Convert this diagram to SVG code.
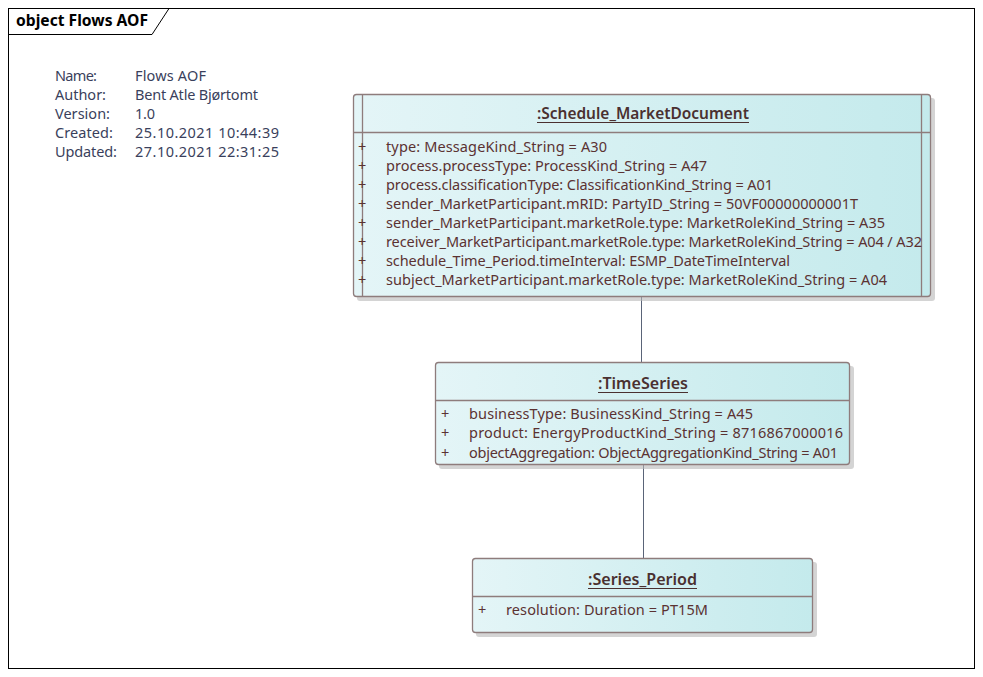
<svg xmlns="http://www.w3.org/2000/svg" width="983" height="677" viewBox="0 0 983 677">
<defs>
<linearGradient id="g" x1="0" y1="0" x2="1" y2="0">
<stop offset="0" stop-color="#e4f5f7"/>
<stop offset="1" stop-color="#c4eaec"/>
</linearGradient>
<style>
text{font-family:"Noto Sans","Liberation Sans",sans-serif;font-size:14.5px;fill:#5b3232}
.info{fill:#3a3f5c}
.ttl{font-weight:600;font-size:15.5px;fill:#4a3030}
.frame{font-weight:bold;font-size:15.5px;fill:#000}
.box{fill:url(#g);stroke:#8e7c7c;stroke-width:1.3}
.shadow{fill:#b8b8b8;opacity:0.6}
.sep{stroke:#8e7c7c;stroke-width:1.3}
.ul{stroke:#4a3030;stroke-width:1}
.conn{stroke:#5a6478;stroke-width:1;fill:none}
</style>
</defs>
<rect x="0" y="0" width="983" height="677" fill="#fff"/>
<g id="frame">
<rect x="8.5" y="8.5" width="966" height="660" fill="none" stroke="#000" stroke-width="1"/>
<path d="M8.5 34.5 H152 L169 8.5" fill="none" stroke="#000" stroke-width="1"/>
<text class="frame" x="16" y="26" textLength="132" lengthAdjust="spacingAndGlyphs">object Flows AOF</text>
</g>
<g id="info">
<text class="info" x="55" y="81" textLength="42">Name:</text><text class="info" x="135" y="81" textLength="71">Flows AOF</text>
<text class="info" x="55" y="100" textLength="51">Author:</text><text class="info" x="135" y="100" textLength="123">Bent Atle Bjørtomt</text>
<text class="info" x="55" y="119" textLength="55">Version:</text><text class="info" x="135" y="119" textLength="20">1.0</text>
<text class="info" x="55" y="138" textLength="58">Created:</text><text class="info" x="135" y="138" textLength="144">25.10.2021 10:44:39</text>
<text class="info" x="55" y="157" textLength="62">Updated:</text><text class="info" x="135" y="157" textLength="144">27.10.2021 22:31:25</text>
</g>
<g id="connectors">
<line class="conn" x1="641.5" y1="297" x2="641.5" y2="362"/>
<line class="conn" x1="643.5" y1="465" x2="643.5" y2="558"/>
</g>
<g id="schedule">
<rect class="shadow" x="357" y="98" width="578" height="203" rx="3"/>
<rect class="box" x="353.5" y="94.5" width="577" height="202" rx="3"/>
<line class="sep" x1="362.5" y1="95" x2="362.5" y2="296"/>
<line class="sep" x1="921.5" y1="95" x2="921.5" y2="296"/>
<line class="sep" x1="354" y1="132.5" x2="930" y2="132.5"/>
<text class="ttl" x="537" y="119" textLength="212" lengthAdjust="spacingAndGlyphs">:Schedule_MarketDocument</text>
<line class="ul" x1="537" y1="122.5" x2="749" y2="122.5"/>
<text x="358" y="152">+</text><text x="386" y="152" textLength="221">type: MessageKind_String = A30</text>
<text x="358" y="171">+</text><text x="386" y="171" textLength="321">process.processType: ProcessKind_String = A47</text>
<text x="358" y="190">+</text><text x="386" y="190" textLength="387">process.classificationType: ClassificationKind_String = A01</text>
<text x="358" y="209">+</text><text x="386" y="209" textLength="472">sender_MarketParticipant.mRID: PartyID_String = 50VF00000000001T</text>
<text x="358" y="228">+</text><text x="386" y="228" textLength="499">sender_MarketParticipant.marketRole.type: MarketRoleKind_String = A35</text>
<text x="358" y="247">+</text><text x="386" y="247" textLength="536">receiver_MarketParticipant.marketRole.type: MarketRoleKind_String = A04  / A32</text>
<text x="358" y="266">+</text><text x="386" y="266" textLength="404">schedule_Time_Period.timeInterval: ESMP_DateTimeInterval</text>
<text x="358" y="285">+</text><text x="386" y="285" textLength="501">subject_MarketParticipant.marketRole.type: MarketRoleKind_String = A04</text>
</g>
<g id="timeseries">
<rect class="shadow" x="439" y="366" width="415" height="103" rx="3"/>
<rect class="box" x="435.5" y="362.5" width="414" height="102" rx="3"/>
<line class="sep" x1="436" y1="400.5" x2="849" y2="400.5"/>
<text class="ttl" x="598" y="389" textLength="90" lengthAdjust="spacingAndGlyphs">:TimeSeries</text>
<line class="ul" x1="598" y1="392.5" x2="688" y2="392.5"/>
<text x="441" y="419">+</text><text x="469" y="419" textLength="284">businessType: BusinessKind_String = A45</text>
<text x="441" y="438">+</text><text x="469" y="438" textLength="374">product: EnergyProductKind_String = 8716867000016</text>
<text x="441" y="458">+</text><text x="469" y="458" textLength="369">objectAggregation: ObjectAggregationKind_String = A01</text>
</g>
<g id="seriesperiod">
<rect class="shadow" x="476" y="562" width="341" height="75" rx="3"/>
<rect class="box" x="472.5" y="558.5" width="340" height="74" rx="3"/>
<line class="sep" x1="473" y1="596.5" x2="812" y2="596.5"/>
<text class="ttl" x="588" y="585" textLength="109" lengthAdjust="spacingAndGlyphs">:Series_Period</text>
<line class="ul" x1="588" y1="588.5" x2="697" y2="588.5"/>
<text x="478" y="615">+</text><text x="506" y="615" textLength="202">resolution: Duration = PT15M</text>
</g>
</svg>
